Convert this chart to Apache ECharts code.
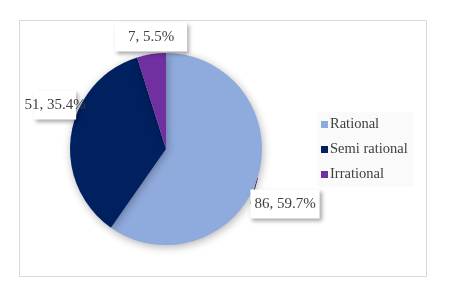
<!DOCTYPE html>
<html><head><meta charset="utf-8">
<script src="https://cdn.jsdelivr.net/npm/echarts@6/dist/echarts.min.js"></script>
<style>html,body{margin:0;padding:0;background:#fff}#c{width:450px;height:288px}</style>
</head><body><div id="c"></div>
<script>
var categories = ['Rational', 'Semi rational', 'Irrational'];
var counts = [86, 51, 7];
var percentLabels = ['59.7%', '35.4%', '5.5%'];
var colors = ['#8faadc', '#002060', '#7030a0'];
var labelPos = [[285, 204], [55, 105], [151, 37]];

var chart = echarts.init(document.getElementById('c'));
var font = '"Liberation Serif", "Times New Roman", serif';
chart.setOption({
  animation: false,
  backgroundColor: '#fff',
  graphic: [{
    type: 'rect', shape: {x: 19.5, y: 20.5, width: 407, height: 256},
    style: {fill: 'none', stroke: '#d9d9d9', lineWidth: 1}, z: -1
  }],
  legend: {
    orient: 'vertical', left: 317, top: 112,
    itemWidth: 7, itemHeight: 7, itemGap: 10,
    padding: [5, 6, 5, 4],
    backgroundColor: '#fafafa',
    icon: 'rect',
    textStyle: {fontFamily: font, fontSize: 14.5, color: '#404040', padding: [0,0,0,-3]},
    data: categories
  },
  series: [{
    type: 'pie',
    center: [166, 149],
    radius: 96,
    startAngle: 90,
    clockwise: true,
    itemStyle: {shadowBlur: 8, shadowColor: 'rgba(0,0,0,0.3)', shadowOffsetX: 1, shadowOffsetY: 2},
    label: {
      show: true, position: 'outside', overflow: 'none',
      formatter: function (p) { return counts[p.dataIndex] + ', ' + percentLabels[p.dataIndex]; },
      fontFamily: font, fontSize: 15, color: '#404040',
      backgroundColor: '#fff', padding: [8, 4, 6, 4],
      shadowBlur: 4, shadowColor: 'rgba(0,0,0,0.35)', shadowOffsetX: 2, shadowOffsetY: 2
    },
    labelLine: {show: true, length: 10, length2: 4, lineStyle: {color: '#404040', width: 1}},
    labelLayout: function (p) {
      var pos = labelPos[p.dataIndex];
      return {x: pos[0], y: pos[1], align: 'center', verticalAlign: 'middle'};
    },
    data: categories.map(function (c, i) {
      var d = {name: c, value: counts[i], itemStyle: {color: colors[i]}};
      if (i !== 0) d.labelLine = {show: false};
      if (i === 2) d.label = {padding: [8, 13, 6, 13]};
      return d;
    })
  }]
});
</script></body></html>
